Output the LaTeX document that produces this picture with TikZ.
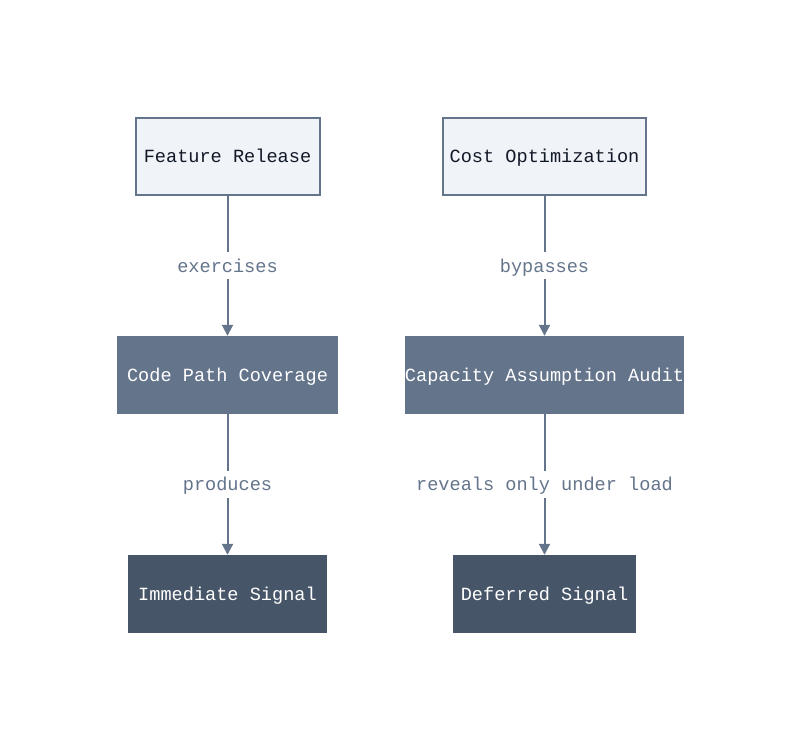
\documentclass[tikz,border=0pt]{standalone}
\usepackage{fontspec}
\setmonofont{Liberation Mono}
\usetikzlibrary{arrows.meta}
\definecolor{edge}{HTML}{64748B}
\definecolor{topfill}{HTML}{F0F3F8}
\definecolor{midfill}{HTML}{64748B}
\definecolor{botfill}{HTML}{475569}
\definecolor{darktext}{HTML}{111827}
\tikzset{
  base/.style={rectangle, inner sep=0pt, text height=17pt, text depth=4pt, font=\ttfamily\fontsize{18.6}{22}\selectfont},
  topbox/.style={base, draw=edge, line width=2pt, fill=topfill, text=darktext},
  midbox/.style={base, fill=midfill, text=white},
  botbox/.style={base, fill=botfill, text=white},
  conn/.style={draw=edge, line width=2pt, -{Triangle[length=11pt,width=11pt]}},
  lbl/.style={fill=white, inner xsep=2pt, inner ysep=3pt, text height=17pt, text depth=4pt, text=edge, font=\ttfamily\fontsize{18.6}{22}\selectfont},
}
\begin{document}
\begin{tikzpicture}[x=1pt,y=1pt]
\useasboundingbox (0,0) rectangle (800,751);
\node[topbox, minimum width=184pt, minimum height=77pt] (fr) at (227.5,594.5) {Feature Release};
\node[topbox, minimum width=203pt, minimum height=77pt] (co) at (544.5,594.5) {Cost Optimization};
\node[midbox, minimum width=221pt, minimum height=78pt] (cp) at (227.5,376) {Code Path Coverage};
\node[midbox, minimum width=277pt, minimum height=78pt] (ca) at (544.5,376) {Capacity Assumption Audit};
\node[botbox, minimum width=199pt, minimum height=78pt] (is) at (227.5,157) {Immediate Signal};
\node[botbox, minimum width=183pt, minimum height=78pt] (ds) at (544.5,157) {Deferred Signal};
\draw[conn] (fr) -- node[lbl] {exercises} (cp);
\draw[conn] (co) -- node[lbl] {bypasses} (ca);
\draw[conn] (cp) -- node[lbl] {produces} (is);
\draw[conn] (ca) -- node[lbl] {reveals only under load} (ds);
\end{tikzpicture}
\end{document}
